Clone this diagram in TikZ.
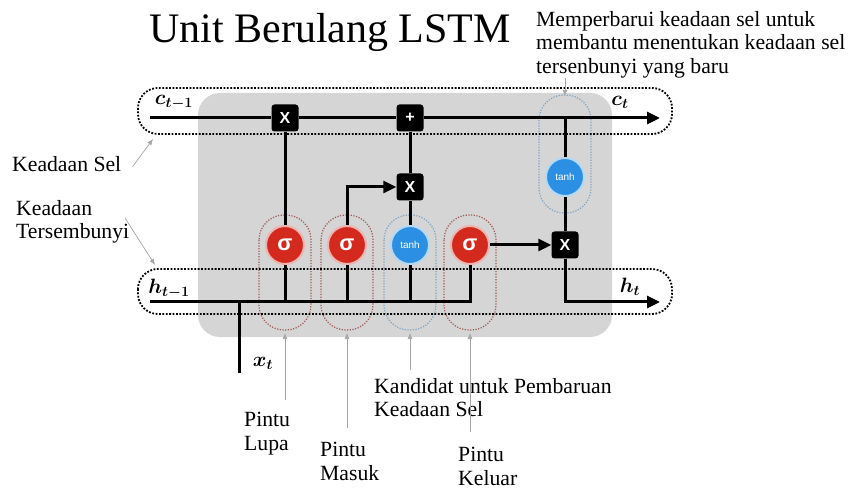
\documentclass[tikz,border=0pt]{standalone}
\usepackage{fontspec}
\setmainfont{Liberation Serif}
\newfontfamily\gatefont{Liberation Sans}
\usepackage{bm}
\usetikzlibrary{arrows.meta, positioning, calc}
\definecolor{cellgray}{HTML}{D5D5D5}
\definecolor{sigred}{HTML}{D42A1E}
\definecolor{tanhblue}{HTML}{2B8FE3}
\definecolor{capred}{HTML}{9E5A55}
\definecolor{capblue}{HTML}{7FA3C4}

\begin{document}
\begin{tikzpicture}[x=1pt, y=-1pt,
  every node/.style={font=\fontsize{21.7}{23.5}\selectfont},
  lbl/.style={align=left, anchor=north west, inner sep=0pt},
  var/.style={inner sep=0pt, font=\fontsize{22}{22}\selectfont},
  sig/.style={circle, fill=sigred, draw=sigred!35, line width=2pt, minimum size=38pt,
              inner sep=0pt, text=white, font=\gatefont\bfseries\fontsize{22}{22}\selectfont},
  tnh/.style={circle, fill=tanhblue, draw=tanhblue!35, line width=2pt, minimum size=38pt,
              inner sep=0pt, text=white, font=\gatefont\fontsize{10}{10}\selectfont},
  op/.style={fill=black, rounded corners=3pt, minimum size=27pt, inner sep=0pt,
             text=white, font=\gatefont\bfseries\fontsize{16}{16}\selectfont},
  wire/.style={line width=3pt},
  arr/.style={line width=3pt, -{Triangle[length=13pt, width=12pt]}},
  dotbox/.style={draw, line width=1.8pt, dash pattern=on 1.8pt off 1.6pt, rounded corners=20pt},
  capsule/.style={line width=1.2pt, dash pattern=on 1.2pt off 1.5pt, rounded corners=25pt},
  ptr/.style={draw=gray!70, line width=0.7pt, -{Latex[length=6pt, width=5pt]}}
]
  \useasboundingbox (0,0) rectangle (852,489);
  % cell background
  \fill[cellgray, rounded corners=22pt] (198,93) rectangle (612,337);
  % gate capsules
  \foreach \gx/\gc in {285/capred, 347/capred, 410/capblue, 470/capred}
    \draw[capsule, draw=\gc] (\gx-26,215) rectangle (\gx+26,330);
  \draw[capsule, draw=capblue] (539,95) rectangle (591,213);
  % state lanes
  \draw[dotbox] (138,88) rectangle (672,134);
  \draw[dotbox] (138,269) rectangle (672,314);

  \node[anchor=base] (title) at (330,43) {\fontsize{42}{42}\selectfont Unit Berulang LSTM};

  \coordinate (cin) at (150,118);
  \coordinate (cout) at (660,118);
  \coordinate (hin) at (150,302);
  \coordinate (hout) at (660,302);
  \coordinate (xin) at (239,373);

  \node[sig] (fg) at (285,245) {σ};
  \node[sig] (ig) at (347,245) {σ};
  \node[tnh] (cg) at (410,245) {tanh};
  \node[sig] (og) at (470,245) {σ};
  \node[op] (fx) at (285,118) {X};
  \node[op] (ad) at (410,118) {+};
  \node[op] (ix) at (410,187) {X};
  \node[tnh] (ct) at (565,177) {tanh};
  \node[op] (ox) at (565,245) {X};

  \node[var] (cprev) at (174,102) {$\bm{c_{t-1}}$};
  \node[var] (hprev) at (169,289) {$\bm{h_{t-1}}$};
  \node[var] (cnext) at (620,102) {$\bm{c_t}$};
  \node[var] (hnext) at (630,287) {$\bm{h_t}$};
  \node[var] (xcur) at (263,363) {$\bm{x_t}$};

  \draw[wire] (cin) -- (fx);
  \draw[wire] (fx) -- (ad);
  \draw[arr] (ad) -- (cout);
  \draw[wire] (hin) -| (og);
  \draw[wire] (xin) -- (xin |- hin);
  \draw[wire] (fg |- hin) -- (fg);
  \draw[wire] (fg) -- (fx);
  \draw[wire] (ig |- hin) -- (ig);
  \draw[arr] (ig) |- (ix);
  \draw[wire] (cg |- hin) -- (cg);
  \draw[wire] (cg) -- (ix);
  \draw[wire] (ix) -- (ad);
  \draw[arr] (og) -- (ox);
  \draw[wire] (ct |- cin) -- (ct);
  \draw[wire] (ct) -- (ox);
  \draw[arr] (ox) |- (hout);

  % labels
  \node[lbl] (upd) at (536,11) {Memperbarui keadaan sel untuk\\membantu menentukan keadaan sel\\tersenbunyi yang baru};
  \node[lbl] (sel) at (12,156) {Keadaan Sel};
  \node[lbl] (hid) at (16,200) {Keadaan\\Tersembunyi};
  \node[lbl] (lupa) at (244,412) {Pintu\\Lupa};
  \node[lbl] (masuk) at (320,442) {Pintu\\Masuk};
  \node[lbl] (kand) at (374,378) {Kandidat untuk Pembaruan\\Keadaan Sel};
  \node[lbl] (keluar) at (458,447) {Pintu\\Keluar};

  \coordinate (fgb) at (285,333);
  \coordinate (igb) at (347,333);
  \coordinate (cgb) at (410,333);
  \coordinate (ogb) at (470,333);
  \coordinate (ctt) at (565,96);
  \coordinate (cbox) at (153,139);
  \coordinate (hbox) at (155,265);

  \draw[ptr] ([yshift=12pt]lupa.north -| fgb) -- (fgb);
  \draw[ptr] ([yshift=14pt]masuk.north -| igb) -- (igb);
  \draw[ptr] ([yshift=8pt]kand.north -| cgb) -- (cgb);
  \draw[ptr] ([yshift=15pt]keluar.north -| ogb) -- (ogb);
  \draw[ptr] (upd.south -| ctt) -- (ctt);
  \draw[ptr] ([xshift=11pt,yshift=-3pt]sel.east) -- (cbox);
  \draw[ptr] (125,218) -- (hbox);
\end{tikzpicture}
\end{document}
